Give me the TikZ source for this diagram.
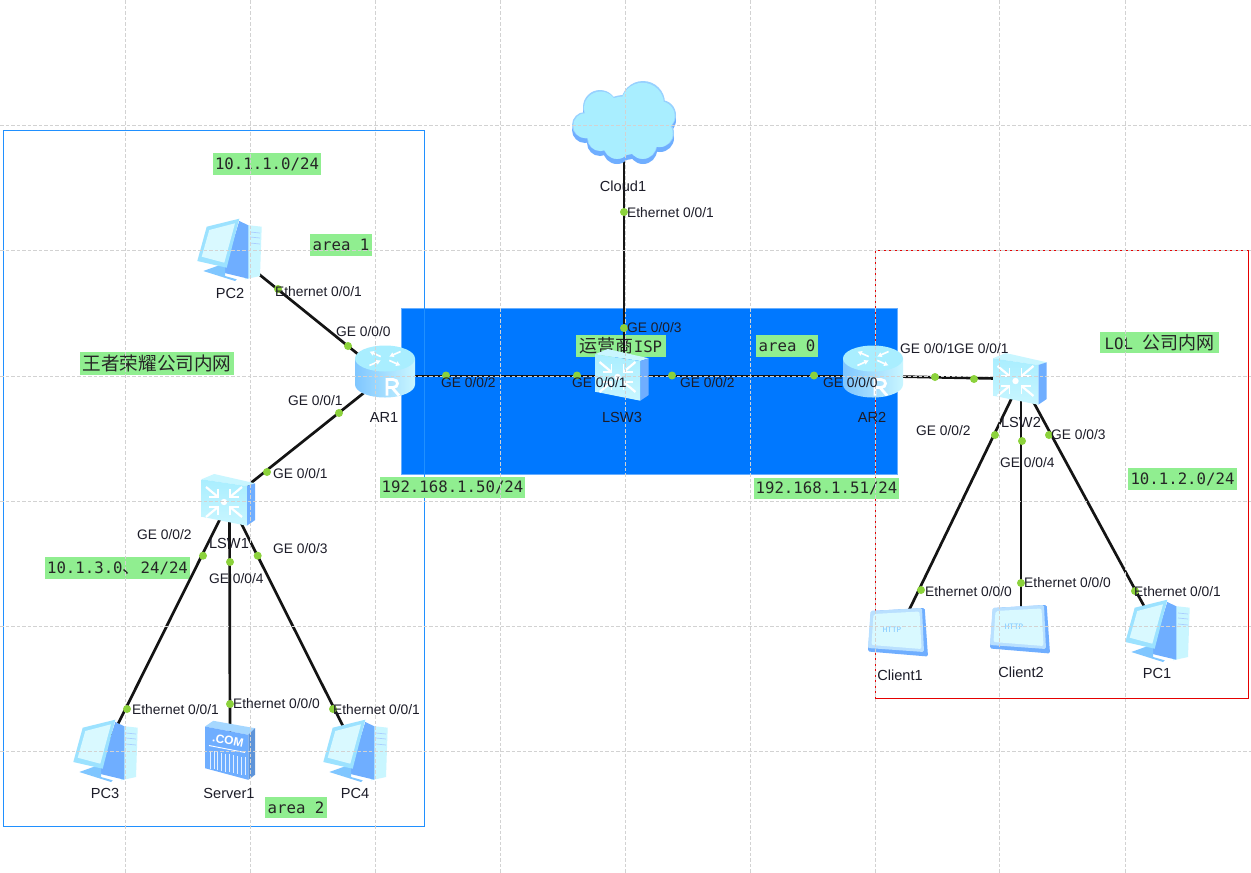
\documentclass[tikz,border=0pt]{standalone}
\usepackage{fontspec}
\setmainfont{Liberation Sans}
\newfontfamily\cjk{Noto Sans CJK SC}
\newfontfamily\mono{DejaVu Sans Mono}
\usetikzlibrary{arrows.meta}
\definecolor{tagbg}{HTML}{90EE90}
\definecolor{portc}{HTML}{8CD23C}
\definecolor{icolight}{HTML}{A9EEFF}
\definecolor{icopale}{HTML}{C9F6FF}
\definecolor{icomid}{HTML}{7FC6FF}
\definecolor{icoblue}{HTML}{6FAEFF}
\definecolor{gridc}{HTML}{D2D2D2}
\definecolor{blocblue}{HTML}{0078FF}
\definecolor{txt}{HTML}{1C1C28}
\tikzset{
  x=1pt,y=-1pt,
  link/.style={draw=black!92,line width=2.7pt},
  port/.style={circle,fill=portc,inner sep=0pt,minimum size=8pt},
  ifl/.style={text=txt,inner sep=0pt,anchor=west,font=\fontsize{13.8}{14}\selectfont},
  devl/.style={text=txt,inner sep=0pt,font=\fontsize{14.6}{15}\selectfont},
  tag/.style={fill=tagbg,text=black!85,inner sep=0pt,font=\mono\fontsize{15.7}{16}\selectfont},
  gridl/.style={draw=gridc,line width=0.9pt,dash pattern=on 3.5pt off 2pt},
  pics/routericon/.style={code={
    \path[left color=icomid,right color=icopale] (-30,-13) -- (-30,13) arc[start angle=180,end angle=0,x radius=30,y radius=13] -- (30,-13) -- cycle;
    \path[fill=icolight] (0,-13) ellipse[x radius=30,y radius=13];
    \foreach \a/\ra/\rb in {45/6/22,135/22/6,225/6/22,315/22/6}{
      \draw[white,line width=1.7pt,-{Latex[length=4.5pt,width=5.5pt]}]
        ({\ra*cos(\a)},{-13+.45*\ra*sin(\a)}) -- ({\rb*cos(\a)},{-13+.45*\rb*sin(\a)});
    }
    \draw[white,line width=2.8pt,line join=miter] (2,24) -- (2,8) -- (8,8) .. controls (14,8) and (14,16) .. (8,16) -- (2,16) (7,16) -- (14,24);
  }},
  pics/switchicon/.style={code={
    \path[fill=icopale] (-27,-20.7) -- (-14.3,-26) -- (26.7,-16.7) -- (18.3,-14) -- cycle;
    \path[fill=icoblue] (18.3,-14) -- (26.7,-16.7) -- (26.7,20) -- (18.3,25.7) -- cycle;
    \path[top color=icolight,bottom color=icopale] (-27,-20.7) -- (18.3,-14) -- (18.3,25.7) -- (-27,16.7) -- cycle;
    \foreach \dx/\dy in {-1/-1,1/-1,-1/1,1/1}{
      \draw[white,line width=2.2pt] ({-4.5+\dx*18},{2+\dy*15}) -- ({-4.5+\dx*6},{2+\dy*5});
      \draw[white,line width=1.8pt] ({-4.5+\dx*6},{2+\dy*13}) -- ({-4.5+\dx*6},{2+\dy*5}) -- ({-4.5+\dx*15},{2+\dy*5});
    }
    \fill[white] (-4.5,2) circle[radius=3.2];
  }},
  pics/pcicon/.style={code={
    \path[fill=icopale] (11,-24.7) -- (32.7,-22.3) -- (31,27) -- (16,30.3) -- cycle;
    \path[fill=icoblue] (10.3,-28) -- (19.3,-23.7) -- (19.3,29.7) -- (-5.7,23.7) -- cycle;
    \draw[icoblue!60!white,line width=.7pt] (21,-17) -- (31,-16) (21,-12) -- (31,-11) (21,-6) -- (31,-5);
    \path[fill=icomid] (-25.7,22) -- (-9,16) -- (-4,18) -- (-4,27) -- (7.7,30.3) -- (6,32) -- cycle;
    \path[fill=icolight!70!icomid] (-22.3,-22.3) -- (10.3,-30.3) -- (-2.3,18.7) -- (-31.7,12) -- cycle;
    \path[fill=icopale!70!white] (-19.7,-19) -- (6,-25.7) -- (-4.7,13.7) -- (-27.3,7.7) -- cycle;
  }},
  pics/servericon/.style={code={
    \path[fill=icomid!70!white] (-25,-24) -- (-16.7,-29.7) -- (25,-22.3) -- (18.3,-15.7) -- cycle;
    \path[fill=icoblue!85!black] (18.3,-15.7) -- (25,-22.3) -- (25,24.3) -- (18.3,29.3) -- cycle;
    \path[fill=icoblue] (-25,-24) -- (18.3,-15.7) -- (18.3,29.3) -- (-25,17.7) -- cycle;
    \foreach \i in {0,...,9}{
      \draw[white!80!icoblue,line width=.8pt] ({-20+\i*3.9},{0+\i*.75}) -- ({-20+\i*3.9},{18+\i*.75});
    }
    \draw[white,line width=.9pt] (-21,-5) -- (15,2);
    \node[text=white,inner sep=0pt,rotate=-11,font=\bfseries\fontsize{12}{12}\selectfont] at (-2,-10) {.COM};
  }},
  pics/clienticon/.style={code={
    \path[fill=icoblue,rounded corners=1.5pt] (-27,-22) -- (26.7,-25) -- (30,23.5) -- (-30,18.5) -- cycle;
    \path[fill=icomid!55!white,rounded corners=1.5pt] (-27.5,-22) -- (24,-25) -- (26,19) -- (-30,15) -- cycle;
    \path[fill=icopale!70!white,rounded corners=2pt] (-24.5,-19) -- (21.5,-21.5) -- (23.5,16) -- (-26.5,12) -- cycle;
    \node[text=icomid,inner sep=0pt,font=\mono\fontsize{7.5}{8}\selectfont] at (-6,-3) {HTTP};
  }},
  pics/cloudicon/.style={code={
    \def\cloudblobs{
      (-24,-18) circle[radius=17]
      (19,-22) circle[radius=22]
      (37,-10) circle[radius=15]
      (-39,0) circle[radius=13]
      (-24,13) circle[radius=13]
      (-7,20) circle[radius=14]
      (19,20) circle[radius=14]
      (36,8) circle[radius=14]
      (0,0) circle[radius=30]
    }
    \fill[icoblue,yshift=-5pt] \cloudblobs;
    \fill[icomid!80!white] \cloudblobs;
    \begin{scope}[shift={(0,0.7)}]
      \fill[icolight,xscale=.975,yscale=.975] \cloudblobs;
    \end{scope}
  }},
}
\begin{document}
\begin{tikzpicture}
\useasboundingbox (0,0) rectangle (1251,873);
\fill[white] (0,0) rectangle (1251,873);

% Areas
\path[fill=blocblue,draw=blocblue!60!white,line width=.8pt] (401,308) rectangle (897,474);
\definecolor{leftbox}{HTML}{2090FF}
\draw[leftbox,line width=.9pt] (3,130) rectangle (424,826);
\draw[red!90!black,line width=.9pt] (875,250) rectangle (1248,698);

% Tags
\node[tag,minimum width=108pt,minimum height=22pt] (t1) at (267,164) {10.1.1.0/24};
\node[tag,minimum width=62pt,minimum height=22pt] (t2) at (341,245) {area 1};
\node[tag,minimum width=154pt,minimum height=23pt,font=\cjk\fontsize{18.6}{18}\selectfont] (t3) at (157,363.5) {王者荣耀公司内网};
\node[tag,minimum width=90pt,minimum height=22pt] (t4) at (621,346) {{\cjk\fontsize{18}{18}\selectfont 运营商}ISP};
\node[tag,minimum width=62pt,minimum height=22pt] (t5) at (787,346) {area 0};
\node[tag,minimum width=119pt,minimum height=21pt] (t6) at (1159.5,342.5) {LOL {\cjk\fontsize{18}{18}\selectfont 公司内网}};
\node[tag,minimum width=145pt,minimum height=21pt] (t7) at (452.5,487.5) {192.168.1.50/24};
\node[tag,minimum width=145pt,minimum height=21pt] (t8) at (826.5,488.5) {192.168.1.51/24};
\node[tag,minimum width=109pt,minimum height=22pt] (t9) at (1182.5,479) {10.1.2.0/24};
\node[tag,minimum width=145pt,minimum height=22pt] (t10) at (117.5,568) {10.1.3.0{\cjk\fontsize{18}{18}\selectfont 、}24/24};
\node[tag,minimum width=62pt,minimum height=21pt] (t11) at (296,807.5) {area 2};

% Device anchors
\coordinate (cloud1) at (624,125);
\coordinate (ar1) at (385,376);
\coordinate (ar2) at (873,376);
\coordinate (lsw3) at (624,376);
\coordinate (lsw1) at (229.5,500);
\coordinate (lsw2) at (1021,379);
\coordinate (pc2) at (229,250);
\coordinate (pc3) at (105,750);
\coordinate (server1) at (230,750);
\coordinate (pc4) at (355,750);
\coordinate (client1) at (898,633);
\coordinate (client2) at (1021,630);
\coordinate (pc1) at (1157,630);

% Links
\draw[link] (cloud1) -- (lsw3);
\draw[link] (ar1) -- (lsw3);
\draw[link] (lsw3) -- (ar2);
\draw[link] (ar2) -- (lsw2);
\draw[link] (pc2) -- (ar1);
\draw[link] (ar1) -- (lsw1);
\draw[link] (lsw1) -- (pc3);
\draw[link] (lsw1) -- (server1);
\draw[link] (lsw1) -- (pc4);
\draw[link] (lsw2) -- (client1);
\draw[link] (lsw2) -- (client2);
\draw[link] (lsw2) -- (pc1);

% Icons
\pic at (624,125) {cloudicon};
\pic at (385,371.5) {routericon};
\pic at (873,371.5) {routericon};
\pic at (622,375) {switchicon};
\pic at (228.5,500) {switchicon};
\pic at (1020,379) {switchicon};
\pic at (229,249) {pcicon};
\pic at (105,750) {pcicon};
\pic at (355,750) {pcicon};
\pic at (1157,630) {pcicon};
\pic at (230,750.5) {servericon};
\pic at (898,633) {clienticon};
\pic at (1020,630) {clienticon};

% Grid
\foreach \gx in {125,250,375,500,625,750,875,999,1125}{\draw[gridl] (\gx,0) -- (\gx,873);}
\foreach \gy in {125,250,376,501,626,751}{\draw[gridl] (0,\gy) -- (1251,\gy);}

% Ports
\foreach \n/\px/\py in {p1/624/212,p2/624/328,p3/446/375.5,p4/577/375.5,p5/672/375.5,p6/814/375.5,
  p7/278/289,p8/348/346,p9/339/413,p10/267/472,p11/203/555.7,p12/230/562,p13/257.7/555.7,
  p14/127/709,p15/230/704,p16/333/709,p17/935/377,p18/974/379,p19/995/435,p20/1022/441,p21/1049/435,
  p22/921/590,p23/1021/583,p24/1135/591}{
  \node[port] (\n) at (\px,\py) {};
}

% Interface labels
\foreach \n/\lx/\ly/\s in {
  i1/627/213/Ethernet 0\slash 0\slash 1, i2/627/328/GE 0\slash 0\slash 3,
  i3/441/383/GE 0\slash 0\slash 2, i4/572/383/GE 0\slash 0\slash 1,
  i5/680/383/GE 0\slash 0\slash 2, i6/823/383/GE 0\slash 0\slash 0,
  i7/275/292/Ethernet 0\slash 0\slash 1, i8/336/332/GE 0\slash 0\slash 0,
  i9/288/401/GE 0\slash 0\slash 1, i10/273/474/GE 0\slash 0\slash 1,
  i11/137/535/GE 0\slash 0\slash 2, i12/273/549/GE 0\slash 0\slash 3,
  i13/209/579/GE 0\slash 0\slash 4, i14/132/710/Ethernet 0\slash 0\slash 1,
  i15/233/704/Ethernet 0\slash 0\slash 0, i16/333/710/Ethernet 0\slash 0\slash 1,
  i17/900/349/GE 0\slash 0\slash 1, i18/954/349/GE 0\slash 0\slash 1,
  i19/916/431/GE 0\slash 0\slash 2, i20/1051/435/GE 0\slash 0\slash 3,
  i21/1000/463/GE 0\slash 0\slash 4, i22/925/592/Ethernet 0\slash 0\slash 0,
  i23/1024/583/Ethernet 0\slash 0\slash 0, i24/1134/592/Ethernet 0\slash 0\slash 1}{
  \node[ifl] (\n) at (\lx,\ly) {\s};
}

% Device names
\node[devl] (n1) at (623,186) {Cloud1};
\node[devl] (n2) at (384,417) {AR1};
\node[devl] (n3) at (622,417) {LSW3};
\node[devl] (n4) at (872,417) {AR2};
\node[devl] (n5) at (1021,422) {LSW2};
\node[devl] (n6) at (229,543) {LSW1};
\node[devl] (n7) at (230,293) {PC2};
\node[devl] (n8) at (105,793) {PC3};
\node[devl] (n9) at (229,793) {Server1};
\node[devl] (n10) at (355,793) {PC4};
\node[devl] (n11) at (900,675) {Client1};
\node[devl] (n12) at (1021,672) {Client2};
\node[devl] (n13) at (1157,673) {PC1};
\end{tikzpicture}
\end{document}
